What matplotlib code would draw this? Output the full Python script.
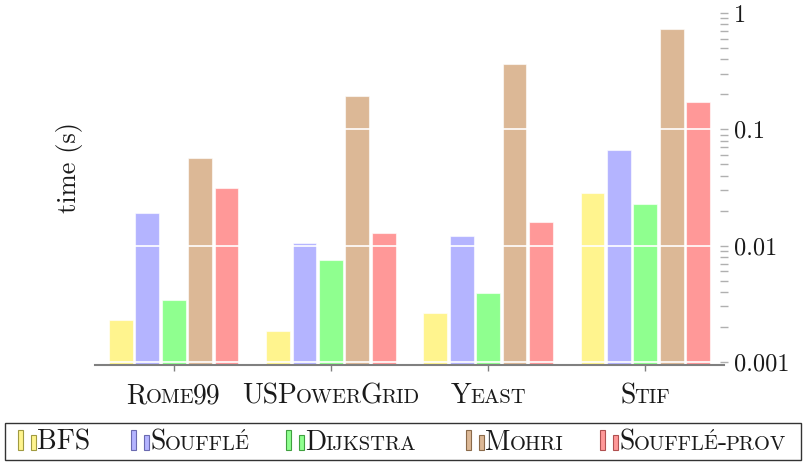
import numpy as np
import matplotlib
matplotlib.use('Agg')
import matplotlib.pyplot as plt
from matplotlib.ticker import FixedLocator, FixedFormatter, LogLocator, NullFormatter
from matplotlib.offsetbox import TextArea, HPacker, DrawingArea, AnnotationBbox
from matplotlib.patches import Rectangle

# data
graphs = ['Rome99', 'USPowerGrid', 'Yeast', 'Stif']
series = ['BFS', 'Soufflé', 'Dijkstra', 'Mohri', 'Soufflé-prov']
bfs = [0.0023, 0.00185, 0.00264, 0.0284]
souffle = [0.0191, 0.0105, 0.0121, 0.0665]
dijkstra = [0.0034, 0.0075, 0.0039, 0.0228]
mohri = [0.057, 0.194, 0.365, 0.73]
souffle_prov = [0.0313, 0.0129, 0.016, 0.172]
values = [bfs, souffle, dijkstra, mohri, souffle_prov]

fills = ['#fff48e', '#b4b4ff', '#8fff8f', '#dcb896', '#ff9898']
edges = ['#a09a40', '#6a6ab0', '#40a040', '#8a6a4a', '#b05050']
ytick_vals = [0.001, 0.01, 0.1, 1]
ytick_labels = ['0.001', '0.01', '0.1', '1']

FONT = ['cmr10', 'DejaVu Serif']
plt.rcParams['font.family'] = FONT
plt.rcParams['mathtext.fontset'] = 'cm'
plt.rcParams['axes.formatter.use_mathtext'] = True


def smallcaps(text, size):
    # fake small caps: capitals at full size, lower case as smaller capitals
    runs = []
    for ch in text:
        small = ch.islower()
        if ch == 'é':
            runs.append([True, r'$\mathrm{\acute{E}}$'])
            runs.append([None, ''])
        elif runs and runs[-1][0] == small:
            runs[-1][1] += ch
        else:
            runs.append([small, ch])
    parts = []
    for small, s in runs:
        if not s:
            continue
        fs = size * 0.74 if small else size
        if small and not s.startswith('$'):
            s = s.upper()
        parts.append(TextArea(s, textprops=dict(fontsize=fs, family=FONT, color='#1a1a1a')))
    return HPacker(children=parts, align='baseline', pad=0, sep=-0.8)


fig = plt.figure(figsize=(8.07, 4.66), dpi=100)
W, H = 807, 466
ax = fig.add_axes([95 / W, 1 - 365 / H, (724 - 95) / W, (365 - 8) / H])

x = np.arange(len(graphs))
n = len(series)
pitch = 0.168
width = 0.152
for i, (vals, fc) in enumerate(zip(values, fills)):
    ax.bar(x + (i - (n - 1) / 2) * pitch, vals, width, bottom=1e-5, color=fc,
           edgecolor=(1, 1, 1, 0.6), linewidth=0.8, zorder=2)

ax.set_yscale('log')
ax.set_ylim(10 ** -3.026, 10 ** 0.044)
ax.set_xlim(-0.5, 3.5)

ax.yaxis.tick_right()
ax.yaxis.set_major_locator(FixedLocator(ytick_vals))
ax.yaxis.set_major_formatter(FixedFormatter(ytick_labels))
ax.yaxis.set_minor_locator(LogLocator(base=10, subs=np.arange(2, 10)))
ax.yaxis.set_minor_formatter(NullFormatter())
ax.tick_params(axis='y', which='both', direction='inout', length=6, width=1,
               color='#b0b0b0', labelsize=17.5, pad=4, labelcolor='#1a1a1a')

ax.set_xticks(x)
ax.set_xticklabels([''] * len(graphs))
ax.tick_params(axis='x', direction='out', length=4, width=1, color='#808080')

for s in ['top', 'left', 'right']:
    ax.spines[s].set_visible(False)
ax.spines['bottom'].set_color('#808080')
ax.spines['bottom'].set_linewidth(1.5)

# white grid lines over the bars
ax.set_axisbelow(False)
ax.yaxis.grid(True, which='major', color='white', linewidth=1.4, alpha=0.85, zorder=3)

for xi, name in zip(x, graphs):
    ab = AnnotationBbox(smallcaps(name, 20), (xi, 0), xycoords=ax.get_xaxis_transform(),
                        xybox=(0, -13), boxcoords='offset points', box_alignment=(0.5, 1),
                        frameon=False, pad=0)
    ax.add_artist(ab)

fig.text(69.5 / W, 1 - 167.5 / H, 'time (s)', rotation=90, ha='center', va='center',
         fontsize=19, color='#1a1a1a')

# legend, built by hand so the labels can be in small caps
fig.patches.append(Rectangle((5 / W, 1 - 460 / H), 796 / W, 37 / H, transform=fig.transFigure,
                             fill=False, edgecolor='#333333', linewidth=1.0))
icon_x = [18, 131, 286, 466, 600]
for ix, name, fc, ec in zip(icon_x, series, fills, edges):
    da = DrawingArea(13, 14.4, 0, 0)
    da.add_artist(Rectangle((0.3, 0), 3.3, 14.4, facecolor=fc, edgecolor=ec, linewidth=0.8))
    da.add_artist(Rectangle((9.4, 0), 3.3, 10.8, facecolor=fc, edgecolor=ec, linewidth=0.8))
    entry = HPacker(children=[da, smallcaps(name, 20)], align='baseline', pad=0, sep=1)
    ab = AnnotationBbox(entry, (ix, H - 456), xycoords='figure pixels', box_alignment=(0, 0),
                        frameon=False, pad=0)
    fig.add_artist(ab)

fig.savefig('out.png', dpi=100)
